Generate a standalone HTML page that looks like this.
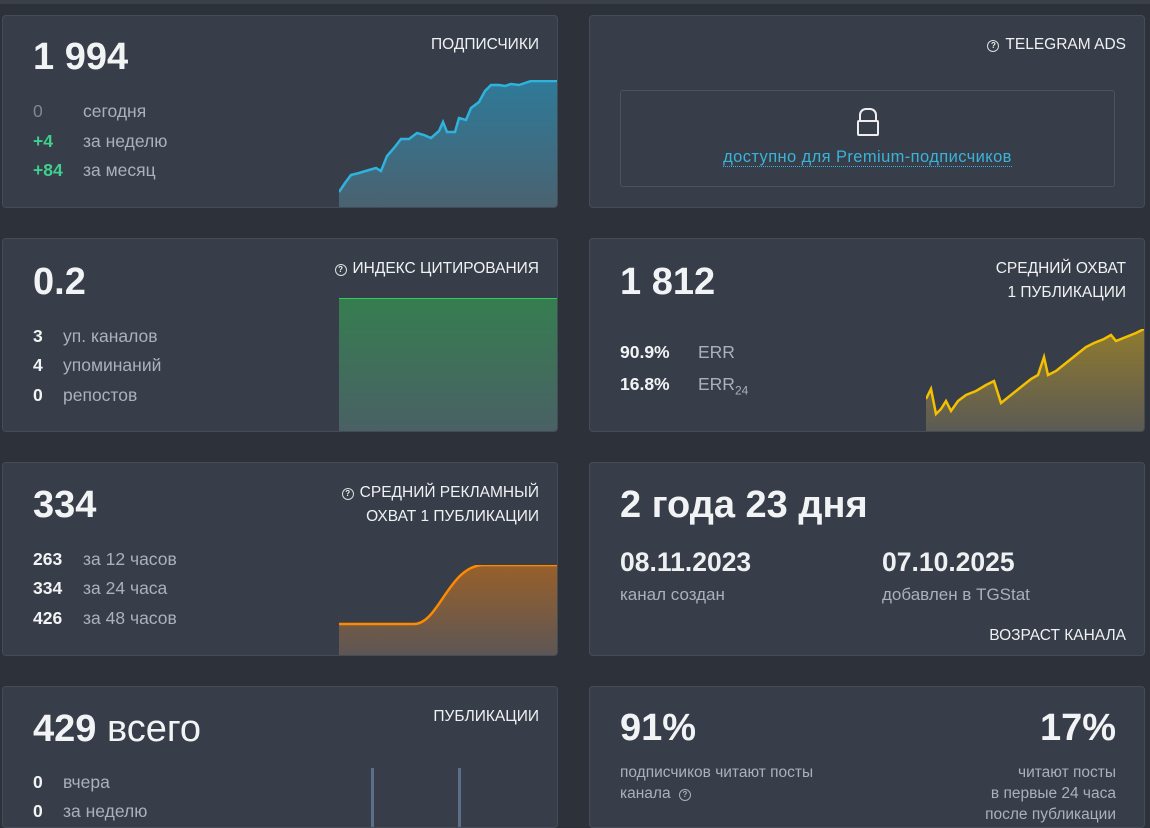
<!DOCTYPE html>
<html><head><meta charset="utf-8"><style>
body{margin:0;width:1150px;height:811px;background:#2d323a;overflow:hidden;font-family:"Liberation Sans","DejaVu Sans",sans-serif;color:#eef0f2}
.top{position:absolute;left:0;top:0;width:1150px;height:4px;background:#3a4049}
.card{position:absolute;background:#373e49;border:1px solid #444c58;border-radius:4px;overflow:hidden}
.big{position:absolute;font-size:38px;font-weight:bold;color:#f2f3f4}
.ttl{position:absolute;right:18px;font-size:15.5px;text-align:right;line-height:24px;color:#f0f1f2;text-transform:uppercase}
.row{position:absolute;font-size:17.5px;color:#aab1ba}
.row b{display:inline-block;width:50px;color:#f2f3f4}
.q{display:inline-block;width:10px;height:10px;border:1.5px solid #ddd;border-radius:50%;font-size:8px;line-height:10px;text-align:center;vertical-align:1px;margin-right:6px;font-weight:bold}
svg{position:absolute}
</style></head><body>
<div class="top"></div>

<div class="card" style="left:2px;top:15px;width:554px;height:191px">
<div class="big" style="left:30px;top:20px">1 994</div>
<div class="ttl" style="top:17px">Подписчики</div>
<div class="row" style="left:30px;top:85px"><b style="color:#7f8893;font-weight:normal">0</b>сегодня</div>
<div class="row" style="left:30px;top:115px"><b style="color:#3fcf8e">+4</b>за неделю</div>
<div class="row" style="left:30px;top:144px"><b style="color:#3fcf8e">+84</b>за месяц</div>
<svg style="left:336px;top:64px" width="220" height="128"><defs><linearGradient id="g1" x1="0" y1="0" x2="0" y2="1"><stop offset="0" stop-color="#2e7a99"/><stop offset="1" stop-color="#4a6270"/></linearGradient></defs>
<path d="M0,128 L0,112 L6,103 L12,95 L20,93 L30,90 L37,88 L42,91 L48,76 L55,68 L62,59 L70,59 L78,53 L85,55 L92,58 L100,51 L104,42 L108,52 L116,52 L120,38 L127,40 L132,28 L140,22 L146,11 L152,5 L160,5 L166,6 L172,4 L180,5 L186,3 L192,1 L220,1 L220,128Z" fill="url(#g1)"/>
<path d="M0,112 L6,103 L12,95 L20,93 L30,90 L37,88 L42,91 L48,76 L55,68 L62,59 L70,59 L78,53 L85,55 L92,58 L100,51 L104,42 L108,52 L116,52 L120,38 L127,40 L132,28 L140,22 L146,11 L152,5 L160,5 L166,6 L172,4 L180,5 L186,3 L192,1 L220,1" fill="none" stroke="#2fb3dc" stroke-width="2.5"/>
</svg></div>

<div class="card" style="left:589px;top:15px;width:554px;height:191px">
<div class="ttl" style="top:17px"><span class="q">?</span>Telegram Ads</div>
<div style="position:absolute;left:30px;top:74px;width:493px;height:95px;border:1px solid #4a525e;border-radius:3px;text-align:center">
<div style="margin:17px auto 0;width:14px;height:10px;border:2px solid #eee;border-bottom:none;border-radius:7px 7px 0 0"></div>
<div style="margin:0 auto;width:18px;height:12px;border:2px solid #eee;border-radius:2px"></div>
<div style="margin-top:12px;font-size:16.5px;letter-spacing:0.4px;color:#3ab3d9"><span style="border-bottom:1px dotted #3ab3d9">доступно для Premium-подписчиков</span></div></div>
</div>

<div class="card" style="left:2px;top:238px;width:554px;height:192px">
<div class="big" style="left:30px;top:22px">0.2</div>
<div class="ttl" style="top:18px"><span class="q">?</span>Индекс цитирования</div>
<div class="row" style="left:30px;top:87px"><b style="width:30px">3</b>уп. каналов</div>
<div class="row" style="left:30px;top:116px"><b style="width:30px">4</b>упоминаний</div>
<div class="row" style="left:30px;top:146px"><b style="width:30px">0</b>репостов</div>
<div style="position:absolute;left:336px;top:59px;width:220px;height:134px;border-top:1.5px solid #2ecc5a;background:linear-gradient(#367d50,#4a6065)"></div>
</div>

<div class="card" style="left:589px;top:238px;width:554px;height:192px">
<div class="big" style="left:30px;top:22px">1 812</div>
<div class="ttl" style="top:18px">Средний охват<br>1 публикации</div>
<div class="row" style="left:30px;top:103px"><b style="width:78px">90.9%</b>ERR</div>
<div class="row" style="left:30px;top:135px"><b style="width:78px">16.8%</b>ERR<sub style="font-size:12px">24</sub></div>
<svg style="left:336px;top:90px" width="220" height="103"><defs><linearGradient id="g2" x1="0" y1="0" x2="0" y2="1"><stop offset="0" stop-color="#8f7a2e"/><stop offset="1" stop-color="#5b5a55"/></linearGradient></defs>
<path d="M0,103 L0,70 L5,60 L10,85 L15,80 L20,72 L25,82 L32,72 L40,66 L50,62 L60,56 L68,52 L75,74 L85,66 L95,58 L105,50 L112,46 L118,28 L122,46 L130,42 L140,34 L150,26 L160,18 L168,14 L178,10 L185,6 L190,12 L200,8 L210,4 L218,0 L220,103Z" fill="url(#g2)"/>
<path d="M0,70 L5,60 L10,85 L15,80 L20,72 L25,82 L32,72 L40,66 L50,62 L60,56 L68,52 L75,74 L85,66 L95,58 L105,50 L112,46 L118,28 L122,46 L130,42 L140,34 L150,26 L160,18 L168,14 L178,10 L185,6 L190,12 L200,8 L210,4 L218,0" fill="none" stroke="#f5c000" stroke-width="2.5"/>
</svg></div>

<div class="card" style="left:2px;top:462px;width:554px;height:192px">
<div class="big" style="left:30px;top:21px">334</div>
<div class="ttl" style="top:18px"><span class="q">?</span>Средний рекламный<br>охват 1 публикации</div>
<div class="row" style="left:30px;top:86px"><b>263</b>за 12 часов</div>
<div class="row" style="left:30px;top:115px"><b>334</b>за 24 часа</div>
<div class="row" style="left:30px;top:145px"><b>426</b>за 48 часов</div>
<svg style="left:336px;top:102px" width="220" height="92"><defs><linearGradient id="g3" x1="0" y1="0" x2="0" y2="1"><stop offset="0" stop-color="#98602a"/><stop offset="1" stop-color="#5c5656"/></linearGradient></defs>
<path d="M0,92 L0,59 L75,59 C100,59 110,0 145,0 L220,0 L220,92Z" fill="url(#g3)"/>
<path d="M0,59 L75,59 C100,59 110,0 145,0 L220,0" fill="none" stroke="#ff8a00" stroke-width="2.5"/>
</svg></div>

<div class="card" style="left:589px;top:462px;width:554px;height:192px">
<div class="big" style="left:30px;top:21px">2 года 23 дня</div>
<div style="position:absolute;left:30px;top:84px;font-size:26.5px;font-weight:bold">08.11.2023</div>
<div class="row" style="left:30px;top:122px;font-size:17px">канал создан</div>
<div style="position:absolute;left:292px;top:84px;font-size:26.5px;font-weight:bold">07.10.2025</div>
<div class="row" style="left:292px;top:122px;font-size:17px">добавлен в TGStat</div>
<div class="ttl" style="top:161px">Возраст канала</div>
</div>

<div class="card" style="left:2px;top:686px;width:554px;height:140px">
<div class="big" style="left:30px;top:21px"><b>429</b> <span style="font-weight:normal">всего</span></div>
<div class="ttl" style="top:18px">Публикации</div>
<div class="row" style="left:30px;top:85px"><b style="width:30px">0</b>вчера</div>
<div class="row" style="left:30px;top:114px"><b style="width:30px">0</b>за неделю</div>
<div style="position:absolute;left:368px;top:81px;width:3px;height:60px;background:#5b7088"></div>
<div style="position:absolute;left:455px;top:81px;width:3px;height:60px;background:#5b7088"></div>
</div>

<div class="card" style="left:589px;top:686px;width:554px;height:140px">
<div class="big" style="left:30px;top:20px">91%</div>
<div class="big" style="right:28px;top:20px">17%</div>
<div class="row" style="left:30px;top:75px;font-size:15.5px;line-height:21px">подписчиков читают посты<br>канала <span class="q" style="border-color:#aab1ba;color:#aab1ba;margin-left:4px">?</span></div>
<div class="row" style="right:28px;top:75px;font-size:15.5px;line-height:21px;text-align:right">читают посты<br>в первые 24 часа<br>после публикации</div>
</div>
</body></html>
